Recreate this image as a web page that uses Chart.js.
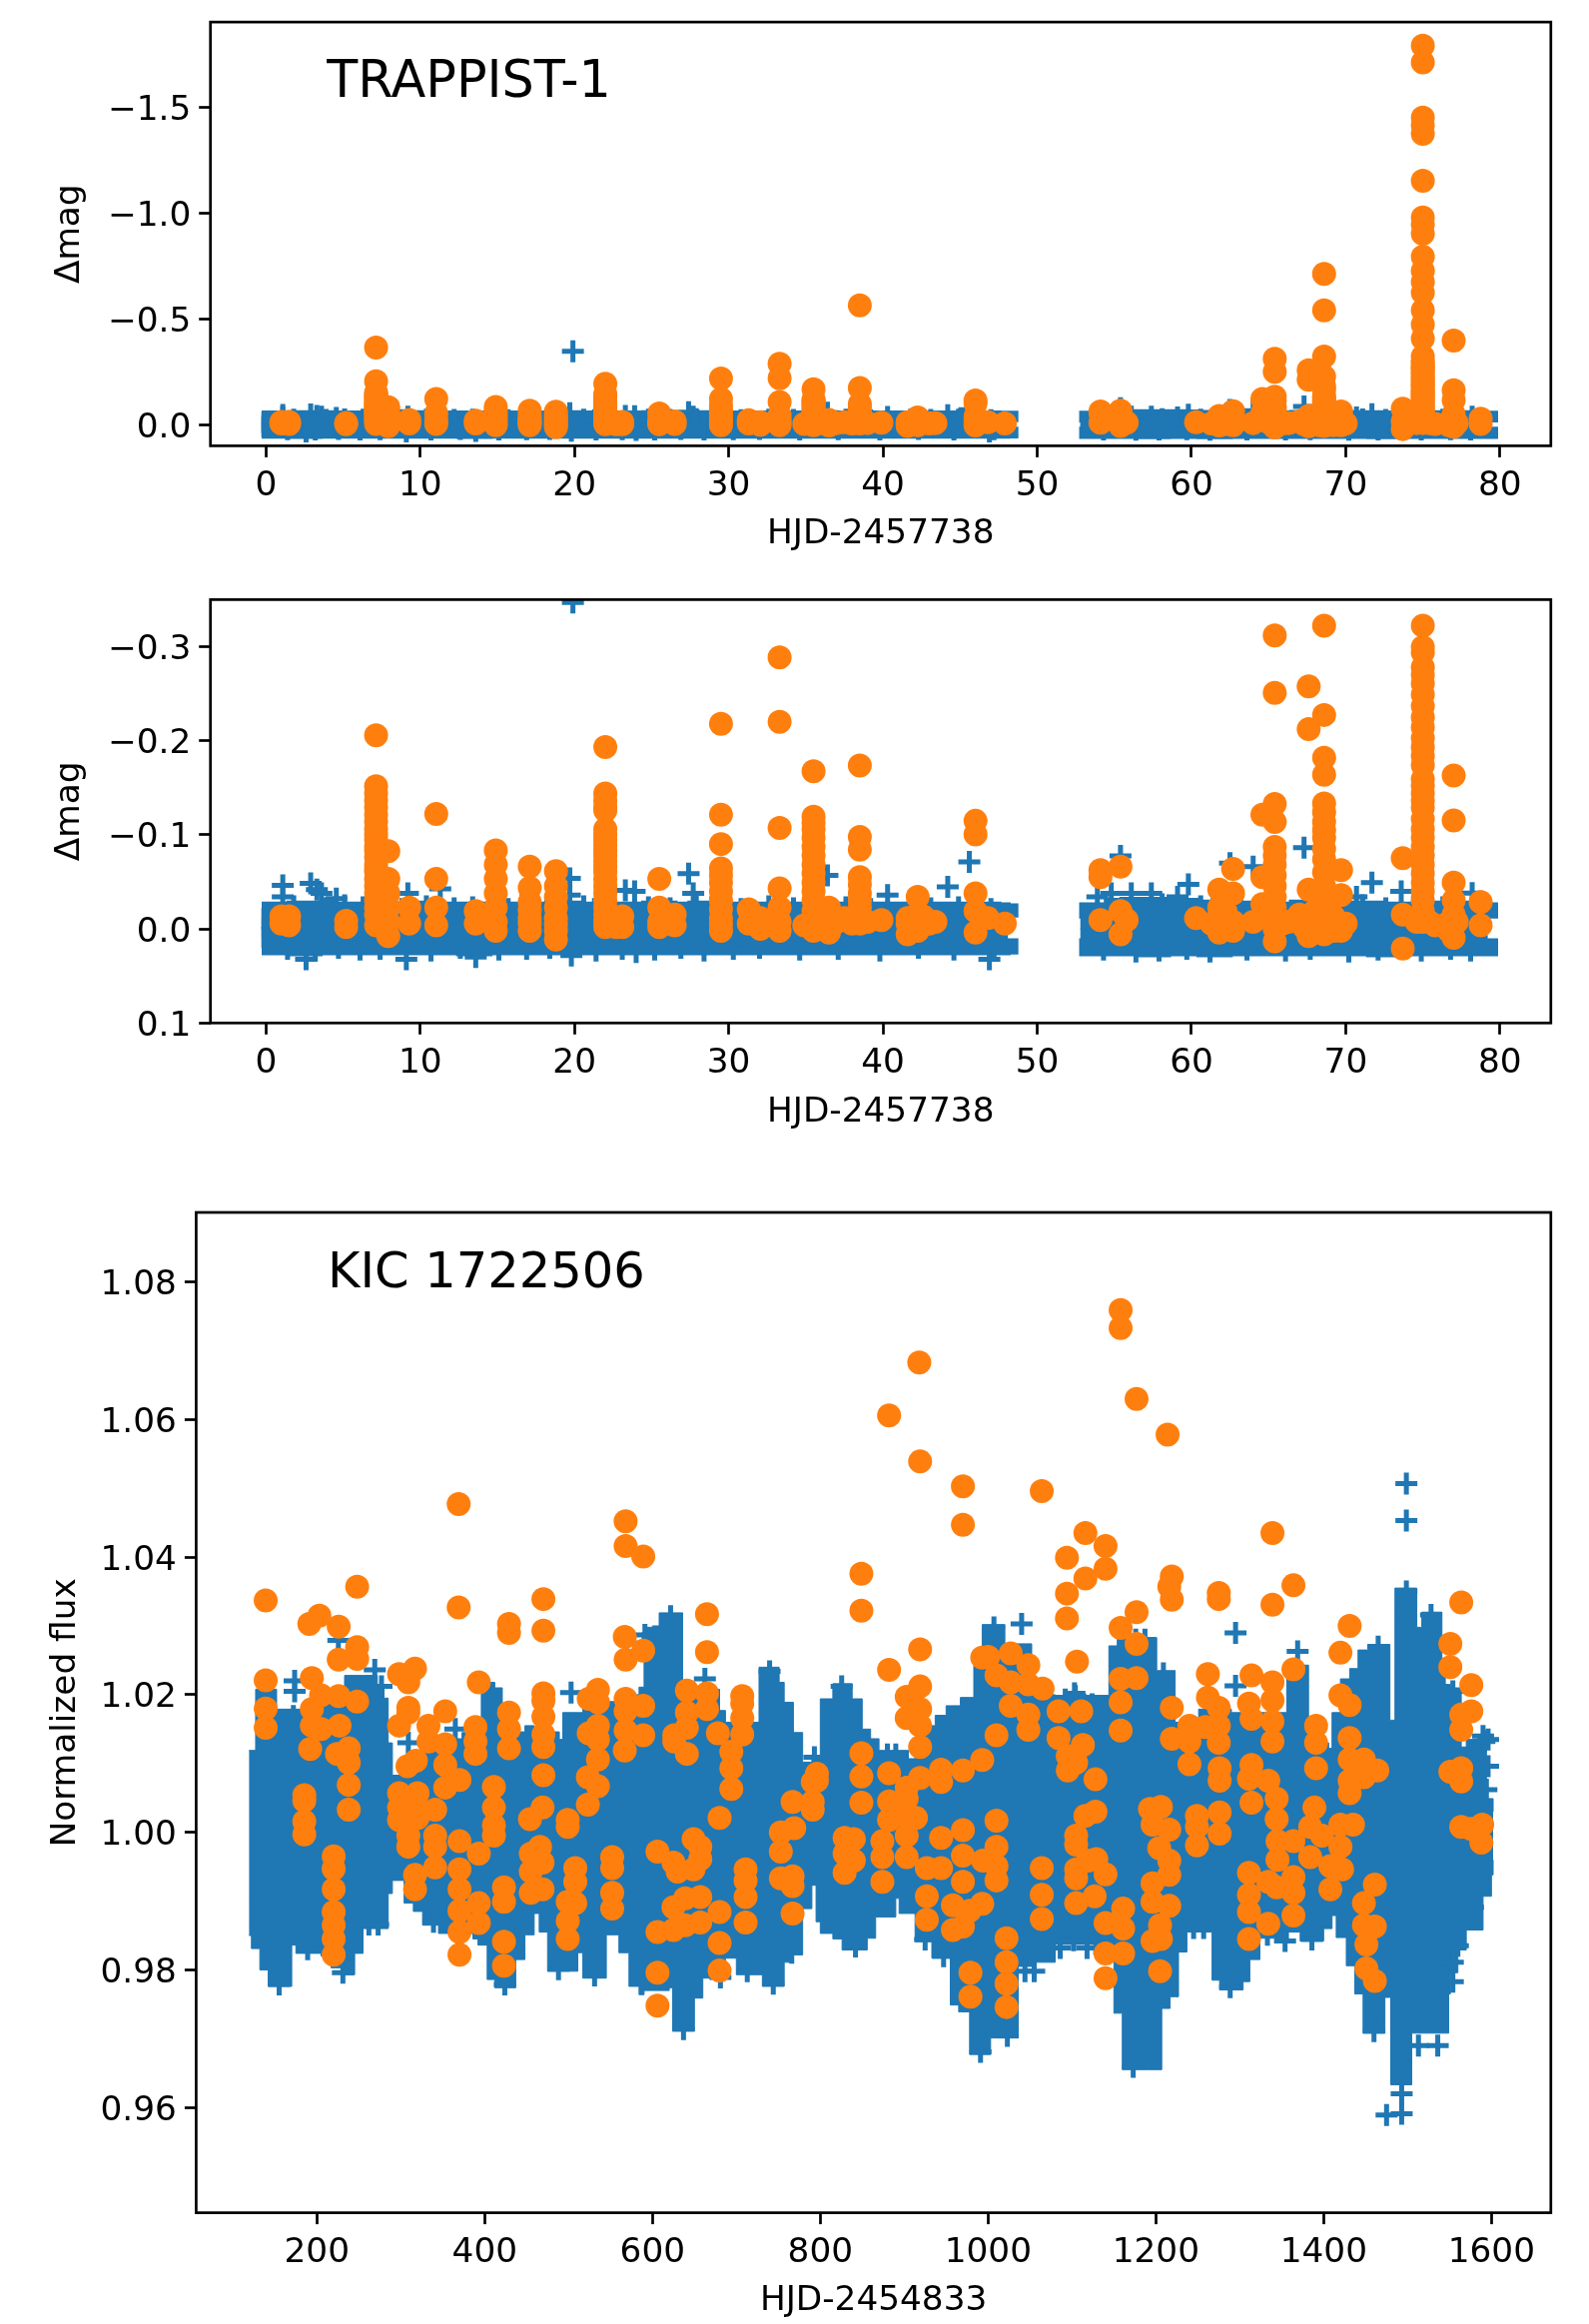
<!DOCTYPE html>
<html>
<head>
    <title>TRAPPIST-1 and KIC 1722506 flares</title>
    <meta charset="UTF-8">
    <style>
        html, body { margin: 0; background: #fff; }
        body { position: relative; width: 1591px; height: 2327px; overflow: hidden; }
        canvas { position: absolute; left: 0; }
    </style>
    <script src="https://cdn.jsdelivr.net/npm/chart.js"></script>
</head>
<body>
    <canvas id="trapTop" width="1591" height="553" style="top:0"></canvas>
    <canvas id="trapZoom" width="1591" height="562" style="top:570px"></canvas>
    <canvas id="kic" width="1591" height="1132" style="top:1190px"></canvas>

    <script>
        // tick labels
        const trapDayTicks = [0, 10, 20, 30, 40, 50, 60, 70, 80];
        const trapMagTicks = [-1.5, -1.0, -0.5, 0.0];
        const trapZoomMagTicks = [-0.3, -0.2, -0.1, 0.0, 0.1];
        const kicDayTicks = [200, 400, 600, 800, 1000, 1200, 1400, 1600];
        const kicFluxTicks = [0.96, 0.98, 1.00, 1.02, 1.04, 1.06, 1.08];

        // TRAPPIST-1: edges of the dense light curve, before and after the gap in the data
        const trapEarlyDays = [-0.3, 0.4, 2, 3, 4, 5, 6, 7, 8, 9, 10, 11, 12, 13, 14, 15, 16, 17, 18, 19, 20, 21, 22, 23, 24,
            25, 26, 27, 28, 29, 30, 31, 32, 33, 34, 35, 36, 37, 38, 39, 40, 41, 42, 43, 44, 45, 46, 47, 47.6, 48.1];
        const trapEarlyHigh = [-0.011, -0.018, -0.019, -0.019, -0.018, -0.017, -0.018, -0.017, -0.018, -0.018, -0.019, -0.018, -0.017, -0.018, -0.018, -0.017, -0.018, -0.017, -0.018, -0.019, -0.018, -0.017, -0.018, -0.017, -0.018,
            -0.019, -0.017, -0.018, -0.019, -0.018, -0.017, -0.018, -0.018, -0.017, -0.018, -0.017, -0.018, -0.017, -0.018, -0.018, -0.017, -0.018, -0.017, -0.018, -0.018, -0.017, -0.018, -0.017, -0.016, -0.012];
        const trapEarlyLow = [0.009, 0.017, 0.018, 0.017, 0.016, 0.017, 0.016, 0.017, 0.017, 0.016, 0.017, 0.016, 0.017, 0.018, 0.016, 0.017, 0.016, 0.017, 0.016, 0.017, 0.017, 0.016, 0.017, 0.016, 0.017,
            0.016, 0.017, 0.016, 0.017, 0.016, 0.017, 0.017, 0.016, 0.017, 0.016, 0.017, 0.016, 0.017, 0.017, 0.016, 0.017, 0.016, 0.017, 0.017, 0.016, 0.017, 0.016, 0.017, 0.016, 0.010];
        const trapLateDays = [52.8, 53.4, 55, 56, 57, 58, 59, 60, 61, 62, 63, 64, 65, 66, 67, 68, 69, 70, 71, 72, 73, 74, 75, 76, 77, 78, 78.6, 79.2];
        const trapLateHigh = [-0.011, -0.017, -0.022, -0.023, -0.023, -0.023, -0.022, -0.020, -0.020, -0.018, -0.019, -0.018, -0.018, -0.017, -0.020, -0.019, -0.018, -0.018, -0.019, -0.018, -0.017, -0.018, -0.019, -0.018, -0.018, -0.019, -0.017, -0.011];
        const trapLateLow = [0.010, 0.018, 0.018, 0.018, 0.019, 0.018, 0.018, 0.018, 0.019, 0.018, 0.017, 0.018, 0.018, 0.017, 0.018, 0.017, 0.018, 0.018, 0.018, 0.019, 0.018, 0.017, 0.018, 0.018, 0.017, 0.018, 0.018, 0.010];

        // TRAPPIST-1: single points standing clear of the band
        const trapPlusDays = [1.09, 1.09, 2.9, 3.3, 3.6, 4.56, 9.2, 11.3, 19.7, 19.7, 19.9, 23.3, 23.9, 27.4, 27.7, 2.6, 9.1, 13.6, 19.8, 24.0,
            36.4, 40.3, 44.2, 45.6, 46.9, 55.4, 54.8, 53.9, 56.1, 57.4, 59.1, 59.8, 62.5, 64.0, 67.3, 71.7, 70.7, 73.6, 78.2,
            1.8, 3.9, 5.1, 6.3, 8.8, 10.4, 12.2, 13.4, 15.7, 16.6, 18.2, 20.6, 21.3, 24.8, 26.2, 27.9, 28.9, 30.8, 32.6, 34.2, 37.6, 39.2, 41.8, 43.1, 44.9, 47.0,
            58.1, 60.6, 61.4, 63.2, 65.9, 68.1, 69.4, 71.1, 72.6, 74.4, 76.3, 77.5,
            1.4, 3.2, 4.7, 6.1, 7.4, 10.7, 12.6, 15.1, 16.9, 18.4, 21.4, 23.1, 25.2, 26.9, 28.4, 30.3, 32.0, 34.6, 37.1, 39.8, 42.3, 44.6, 47.2,
            54.3, 56.4, 57.9, 59.7, 61.2, 63.6, 66.1, 67.7, 70.2, 72.1, 74.9, 76.8, 78.1];
        const trapPlusMag = [-0.0462, -0.0341, -0.0485, -0.0417, -0.0379, -0.0322, -0.0379, -0.0425, -0.0538, -0.0360, -0.347, -0.0409, -0.0398, -0.0588, -0.0379, 0.0322, 0.0322, 0.0300, 0.0284, 0.0246,
            -0.0569, -0.0360, -0.0447, -0.0713, 0.0322, -0.0777, -0.0379, -0.0341, -0.0379, -0.0379, -0.0340, -0.0474, -0.0700, -0.0663, -0.0864, -0.0493, -0.0340, -0.0400, -0.0380,
            -0.024, -0.022, -0.025, -0.023, -0.021, -0.024, -0.022, -0.023, -0.021, -0.025, -0.022, -0.024, -0.021, -0.023, -0.022, -0.026, -0.023, -0.021, -0.024, -0.022, -0.023, -0.021, -0.024, -0.022, -0.023, -0.021,
            -0.026, -0.024, -0.023, -0.025, -0.022, -0.024, -0.023, -0.025, -0.022, -0.024, -0.023, -0.022,
            0.021, 0.023, 0.020, 0.022, 0.021, 0.023, 0.020, 0.022, 0.021, 0.020, 0.023, 0.021, 0.022, 0.020, 0.023, 0.021, 0.020, 0.022, 0.021, 0.023, 0.020, 0.022, 0.021,
            0.022, 0.024, 0.023, 0.021, 0.024, 0.022, 0.023, 0.021, 0.024, 0.022, 0.023, 0.021, 0.023];

        // TRAPPIST-1: flare points
        const trapFlareDays = [1.0, 1.0, 1.5, 1.5,
            5.2, 5.2,
            7.14, 7.14, 7.14, 7.14, 7.14, 7.14, 7.14, 7.14, 7.14, 7.14, 7.14, 7.14, 7.14,
            7.14, 7.14, 7.14, 7.14, 7.14, 7.14, 7.14, 7.14, 7.14, 7.14, 7.14,
            7.93, 7.93, 7.93, 7.93, 7.93, 7.93,
            9.29, 9.29,
            11.04, 11.04, 11.04, 11.04,
            13.6, 13.6,
            14.9, 14.9, 14.9, 14.9, 14.9, 14.9, 14.9,
            17.1, 17.1, 17.1, 17.1, 17.1, 17.1, 17.1,
            18.8, 18.8, 18.8, 18.8, 18.8, 18.8, 18.8, 18.8,
            22.0, 22.0, 22.0, 22.0, 22.0, 22.0, 22.0, 22.0, 22.0, 22.0, 22.0, 22.0, 22.0,
            22.0, 22.0, 22.0, 22.0, 22.0, 22.0, 22.0, 22.0, 22.0,
            23.1, 23.1, 22.7,
            25.5, 25.5, 25.5, 25.5,
            26.5, 26.5,
            29.5, 29.5, 29.5, 29.5, 29.5, 29.5, 29.5, 29.5,
            29.5, 29.5, 29.5, 29.5,
            31.3, 31.3,
            32.05, 32.05,
            33.3, 33.3, 33.3, 33.3, 33.3, 33.3, 33.3,
            34.9,
            35.5, 35.5, 35.5, 35.5, 35.5, 35.5, 35.5, 35.5,
            35.5, 35.5, 35.5, 35.5, 35.5, 35.5, 35.5,
            36.0,
            36.5, 36.5, 36.5,
            37.0, 37.5, 38.0,
            38.5, 38.5, 38.5, 38.5, 38.5, 38.5, 38.5, 38.5,
            38.5, 38.5, 38.5,
            39.0, 39.9,
            41.6, 41.6, 41.6,
            42.25, 42.25, 42.25, 42.6, 43.0,
            43.4,
            46.0, 46.0, 46.0, 46.0, 46.0,
            46.8,
            47.9,
            54.1, 54.1, 54.1,
            55.4, 55.4, 55.4,
            55.8,
            60.3,
            61.3, 61.8, 61.8, 61.8,
            62.2, 62.2, 62.7, 62.7, 62.7, 62.7,
            64.0,
            64.6, 64.6, 64.6,
            65.0, 65.4, 65.4, 65.4, 65.4, 65.4, 65.4, 65.4, 65.4, 65.4,
            65.4, 65.4, 65.4, 65.4, 65.4, 65.9, 66.3,
            67.0, 67.3, 67.6, 67.6, 67.6, 67.6, 67.6, 68.0, 68.3,
            68.6, 68.6, 68.6, 68.6, 68.6, 68.6, 68.6, 68.6, 68.6, 68.6, 68.6, 68.6, 68.6,
            68.6, 68.6, 68.6, 68.6, 68.6, 68.6,
            69.2, 69.2, 69.7, 69.7, 69.7, 70.0,
            73.7, 73.7, 73.7, 74.6,
            75.0, 75.0, 75.0, 75.0, 75.0, 75.0, 75.0, 75.0, 75.0, 75.0, 75.0, 75.0, 75.0, 75.0, 75.0, 75.0,
            75.0, 75.0, 75.0, 75.0, 75.0, 75.0, 75.0, 75.0, 75.0, 75.0, 75.0, 75.0, 75.0, 75.0, 75.0, 75.0, 75.0, 75.0,
            75.0, 75.0, 75.0, 75.0, 75.0, 75.0, 75.0, 75.0, 75.0, 75.0, 75.0, 75.0, 75.0,
            75.4, 75.8, 76.6, 76.7,
            77.0, 77.0, 77.0, 77.0, 77.0, 77.0, 77.0, 77.2,
            78.75, 78.75];
        const trapFlareMag = [-0.0133, -0.0057, -0.0133, -0.0038,
            -0.0087, -0.0019,
            -0.365, -0.2058, -0.1516, -0.1365, -0.1213, -0.1061, -0.0948, -0.0834, -0.0682, -0.0607, -0.0455, -0.0303, -0.0038,
            -0.1440, -0.1290, -0.1140, -0.1000, -0.0880, -0.0760, -0.0640, -0.0530, -0.0380, -0.0230, -0.0150,
            -0.0826, -0.0531, -0.0379, -0.0227, -0.0076, 0.0076,
            -0.0227, -0.0057,
            -0.1221, -0.0531, -0.0227, -0.0038,
            -0.0190, -0.0057,
            -0.0834, -0.0682, -0.0531, -0.0379, -0.0227, -0.0076, 0.0019,
            -0.0663, -0.0436, -0.0284, -0.0114, 0.0019, -0.0200, -0.0060,
            -0.0614, -0.0455, -0.0227, -0.0114, 0.0019, 0.0114, -0.0340, -0.0050,
            -0.1933, -0.1440, -0.1365, -0.1259, -0.1061, -0.0948, -0.0834, -0.0720, -0.0607, -0.0455, -0.0303, -0.0152, -0.0019,
            -0.1300, -0.1000, -0.0890, -0.0780, -0.0660, -0.0530, -0.0380, -0.0230, -0.0080,
            -0.0133, -0.0019, -0.0019,
            -0.0531, -0.0227, -0.0076, -0.0019,
            -0.0152, -0.0038,
            -0.2180, -0.1213, -0.0902, -0.0644, -0.0493, -0.0303, -0.0114, 0.0019,
            -0.0570, -0.0400, -0.0210, -0.0050,
            -0.0208, -0.0057,
            -0.0114, 0.0000,
            -0.2886, -0.2200, -0.1073, -0.0432, -0.0227, -0.0076, 0.0019,
            -0.0038,
            -0.1676, -0.1194, -0.1061, -0.0872, -0.0682, -0.0493, -0.0303, -0.0076,
            -0.1130, -0.0970, -0.0780, -0.0590, -0.0400, -0.0190, 0.0019,
            -0.0076,
            -0.0227, -0.0076, 0.0038,
            -0.0076, -0.0114, -0.0057,
            -0.565, -0.1736, -0.0978, -0.0842, -0.0550, -0.0379, -0.0227, -0.0057,
            -0.0470, -0.0300, -0.0130,
            -0.0076, -0.0095,
            -0.0114, 0.0057, -0.0057,
            -0.0341, -0.0152, 0.0019, -0.0133, -0.0057,
            -0.0076,
            -0.1149, -0.1005, -0.0379, -0.0190, 0.0038,
            -0.0114,
            -0.0057,
            -0.0625, -0.0550, -0.0095,
            -0.0663, -0.0190, 0.0057,
            -0.0095,
            -0.0114,
            -0.0057, -0.0417, -0.0227, 0.0038,
            -0.0190, -0.0038, -0.0637, -0.0379, -0.0076, 0.0019,
            -0.0076,
            -0.1213, -0.0550, -0.0265,
            -0.0114, -0.3120, -0.2509, -0.1327, -0.1137, -0.0872, -0.0682, -0.0455, -0.0227, 0.0133,
            -0.0780, -0.0570, -0.0340, -0.0120, 0.0000, -0.0057, -0.0076,
            -0.0152, -0.0019, -0.2578, -0.2123, -0.0417, -0.0076, 0.0076, -0.0190, 0.0019,
            -0.714, -0.541, -0.3222, -0.2274, -0.1820, -0.1638, -0.1334, -0.1137, -0.0967, -0.0739, -0.0455, -0.0227, 0.0057,
            -0.1240, -0.1050, -0.0850, -0.0600, -0.0340, -0.0120,
            -0.0133, 0.0019, -0.0625, -0.0360, 0.0019, -0.0057,
            -0.0751, -0.0152, 0.0208, -0.0076,
            -1.793, -1.714, -1.4527, -1.4150, -1.3766, -1.154, -0.980, -0.947, -0.904, -0.795, -0.728, -0.676, -0.625, -0.541, -0.474, -0.407,
            -0.3222, -0.2995, -0.2938, -0.2779, -0.2608, -0.2369, -0.2142, -0.2028, -0.1838, -0.1592, -0.1440, -0.1289, -0.1061, -0.0872, -0.0682, -0.0493, -0.0303, -0.0076,
            -0.2700, -0.2490, -0.2250, -0.1930, -0.1740, -0.1520, -0.1360, -0.1170, -0.0970, -0.0780, -0.0590, -0.0400, -0.0190,
            -0.0076, -0.0038, -0.0057, 0.0019,
            -0.398, -0.1630, -0.1152, -0.0493, -0.0303, -0.0152, 0.0095, -0.0076,
            -0.0284, -0.0038];

        // KIC 1722506: edges of the dense light curve, each value holds until the next day
        const kicBandDays = [119, 122, 127, 132, 142, 152, 170, 175, 190, 205, 215, 217, 233, 245, 255, 272, 280, 285, 290, 304,
            315, 326, 345, 373, 386, 392, 396, 403, 412, 421, 425, 437, 448, 459, 465, 475, 489, 493, 511, 517,
            545, 560, 572, 584, 590, 600, 608, 620, 624, 636, 650, 660, 680, 687, 700, 727, 731, 751, 757, 768,
            779, 790, 795, 800, 815, 826, 838, 850, 856, 860, 866, 870, 890, 894, 905, 913, 925, 933, 937, 950,
            955, 965, 967, 978, 983, 993, 1003, 1020, 1036, 1052, 1080, 1126, 1144, 1150, 1154, 1160, 1191, 1201, 1207, 1217,
            1223, 1227, 1237, 1251, 1267, 1276, 1290, 1304, 1312, 1324, 1342, 1356, 1358, 1372, 1382, 1400, 1406, 1410, 1415, 1420,
            1427, 1431, 1437, 1441, 1447, 1453, 1473, 1479, 1480, 1485, 1505, 1511, 1517, 1541, 1545, 1549, 1551, 1560, 1564, 1570,
            1590, 1594, 1600, 1602];
        const kicBandHigh = [1.0119, 1.0119, 1.0208, 1.0208, 1.0208, 1.0179, 1.0179, 1.0179, 1.0185, 1.0185, 1.0190, 1.0190, 1.0228, 1.0228, 1.0228, 1.0215, 1.0195, 1.0130, 1.0083, 1.0083,
            1.0105, 1.0136, 1.0136, 1.0145, 1.0155, 1.0155, 1.0218, 1.0218, 1.0210, 1.0170, 1.0146, 1.0146, 1.0155, 1.0146, 1.0146, 1.0146, 1.0135, 1.0174, 1.0174, 1.0180,
            1.0190, 1.0195, 1.0200, 1.0211, 1.0298, 1.0300, 1.0319, 1.0319, 1.0319, 1.0210, 1.0205, 1.0208, 1.0177, 1.0160, 1.0160, 1.0240, 1.0240, 1.0218, 1.0189, 1.0145,
            1.0102, 1.0112, 1.0112, 1.0194, 1.0216, 1.0216, 1.0194, 1.0150, 1.0150, 1.0136, 1.0136, 1.0119, 1.0119, 1.0119, 1.0107, 1.0130, 1.0150, 1.0155, 1.0170, 1.0184,
            1.0184, 1.0184, 1.0196, 1.0196, 1.0242, 1.0302, 1.0302, 1.0274, 1.0274, 1.0200, 1.0199, 1.0199, 1.0271, 1.0271, 1.0283, 1.0283, 1.0283, 1.0235, 1.0235, 1.0235,
            1.0160, 1.0160, 1.0160, 1.0179, 1.0179, 1.0179, 1.0174, 1.0174, 1.0174, 1.0174, 1.0174, 1.0243, 1.0243, 1.0243, 1.0160, 1.0130, 1.0122, 1.0174, 1.0174, 1.0223,
            1.0223, 1.0238, 1.0238, 1.0265, 1.0265, 1.0273, 1.0273, 1.0163, 1.0163, 1.0355, 1.0355, 1.0298, 1.0320, 1.0245, 1.0215, 1.0215, 1.0210, 1.0210, 1.0124, 1.0135,
            1.0130, 1.0049, 1.0049, 1.0030];
        const kicBandLow = [0.9850, 0.9831, 0.9831, 0.9800, 0.9776, 0.9776, 0.9836, 0.9824, 0.9824, 0.9820, 0.9817, 0.9803, 0.9793, 0.9824, 0.9860, 0.9860, 0.9860, 0.9911, 0.9930, 0.9897,
            0.9885, 0.9865, 0.9853, 0.9853, 0.9845, 0.9836, 0.9836, 0.9786, 0.9774, 0.9774, 0.9774, 0.9815, 0.9851, 0.9882, 0.9855, 0.9798, 0.9798, 0.9798, 0.9825, 0.9788,
            0.9851, 0.9825, 0.9776, 0.9764, 0.9770, 0.9770, 0.9770, 0.9774, 0.9711, 0.9711, 0.9759, 0.9788, 0.9788, 0.9817, 0.9793, 0.9793, 0.9776, 0.9776, 0.9811, 0.9822,
            0.9889, 0.9923, 0.9870, 0.9853, 0.9845, 0.9829, 0.9829, 0.9829, 0.9846, 0.9846, 0.9877, 0.9877, 0.9904, 0.9882, 0.9882, 0.9841, 0.9841, 0.9817, 0.9817, 0.9817,
            0.9749, 0.9739, 0.9739, 0.9677, 0.9677, 0.9677, 0.9701, 0.9701, 0.9805, 0.9811, 0.9837, 0.9822, 0.9822, 0.9737, 0.9737, 0.9655, 0.9655, 0.9655, 0.9744, 0.9761,
            0.9761, 0.9826, 0.9855, 0.9855, 0.9785, 0.9771, 0.9771, 0.9783, 0.9815, 0.9846, 0.9840, 0.9840, 0.9855, 0.9842, 0.9842, 0.9860, 0.9860, 0.9879, 0.9847, 0.9847,
            0.9806, 0.9806, 0.9765, 0.9765, 0.9708, 0.9708, 0.9760, 0.9760, 0.9633, 0.9633, 0.9708, 0.9708, 0.9708, 0.9708, 0.9708, 0.9765, 0.9796, 0.9829, 0.9829, 0.9858,
            0.9907, 0.9907, 0.9938, 0.9960];

        // KIC 1722506: single points standing clear of the band
        const kicPlusDays = [173.5, 173.5, 225.6, 225.6, 269, 277, 309, 365, 503, 591, 662.5, 793,
            1040, 1498.6, 1498.6, 1295, 1369, 1295, 1103, 1591.6, 1528, 1554, 1578, 1288.6,
            1493, 1493, 1475, 1513, 1536,
            155, 637, 991, 1173, 1460, 1498.6, 1007, 621.6, 739.6, 1465, 1209,
            189, 231, 262, 273, 339, 424, 488, 531, 172, 590, 825.5, 880, 890,
            681, 713, 744, 766, 842, 925, 947, 1023, 1044, 1055, 1086, 1102, 1118,
            1245, 1257, 1333, 1354, 1386, 1176, 1187, 1092, 1104, 1124,
            1590, 1596, 1596, 1594, 1560, 1554, 1554];
        const kicPlusFlux = [1.0220, 1.0205, 1.0279, 1.0184, 1.0236, 1.0212, 1.0130, 1.0150, 1.0203, 1.0287, 1.0223, 1.0109,
            1.0303, 1.0507, 1.0453, 1.0290, 1.0263, 1.0213, 1.0202, 1.0132, 1.0316, 1.0205, 0.9891, 0.9775,
            0.9620, 0.9591, 0.9589, 0.9690, 0.9690,
            0.9779, 0.9714, 0.9681, 0.9659, 0.9711, 1.0350, 1.0298, 1.0314, 1.0234, 1.0270, 1.0231,
            0.9830, 0.9796, 0.9866, 0.9866, 0.9870, 0.9779, 0.9801, 0.9792, 1.0169, 1.0275, 1.0212, 1.0113, 1.0113,
            0.9789, 0.9798, 0.9780, 0.9825, 0.9834, 0.9844, 0.9820, 0.9704, 0.9798, 0.9798, 0.9832, 0.9843, 0.9832,
            0.9861, 0.9861, 0.9851, 0.9842, 0.9844, 1.0280, 1.0280, 1.0193, 1.0198, 1.0186,
            1.0140, 1.0135, 1.0096, 1.0062, 0.9835, 0.9783, 0.9811];

        // KIC 1722506: flare points
        const kicFlareDays = [139, 139, 139, 139,
            191, 203, 226, 248, 248, 248, 226, 194, 205, 226, 248, 194, 194, 205, 192, 227, 224, 238, 238, 238, 238,
            185, 185, 185, 185,
            220, 220, 220, 220, 220, 220, 220,
            298, 317, 309, 309, 298, 309, 318, 308, 333, 333, 353, 353, 353, 353, 370, 389, 389, 389, 393,
            298, 298, 298, 320, 320, 320, 309, 309, 341, 341, 341, 370, 393, 317, 317, 341, 370, 370, 370, 370, 370, 393, 393,
            429, 429, 429, 411, 411, 411, 411, 423, 423, 423, 423,
            369, 369, 429, 429, 470, 470, 470, 470, 470, 470, 470, 470, 469, 454, 499, 499,
            466, 455, 469, 455, 455, 469, 508, 508, 499, 508, 499, 499,
            568, 568, 589, 567, 568, 589, 524, 535, 535, 524, 535, 535, 535, 535, 523, 523, 568, 568, 568, 567, 589, 589,
            552, 552, 552, 552, 606, 625, 630, 649, 657, 657, 649,
            606, 625, 625, 639, 639, 657, 657, 680, 680, 680, 606, 606,
            665, 665, 641, 665, 641, 665, 641, 626, 626, 641, 678, 680, 707, 707, 707, 707, 694, 694, 694,
            711, 711, 711, 711,
            753, 769, 753, 753, 767, 767, 767, 767, 796, 791, 796, 791, 791,
            829, 829, 829,
            970, 970, 1064,
            849, 849, 919, 882, 919, 903, 919, 903, 919, 919, 849, 849, 849, 882, 919, 944, 944, 970, 993, 903, 903, 882, 882, 903, 914,
            840, 840, 874, 874, 874, 903, 903, 944, 970, 970, 970, 944, 927, 927, 927, 958, 958, 970, 993, 978, 994, 1010, 1010, 1010, 1010, 1010,
            979, 979, 1022, 1022, 1022, 1022,
            993, 1010, 1027, 1027, 1027, 1048, 1048, 1048, 1048, 1065,
            1094, 1116, 1140, 1140, 1116, 1094, 1094, 1158, 1177, 1177, 1106, 1158, 1177, 1158, 1158,
            1084, 1111, 1084, 1113, 1095, 1105, 1095, 1128, 1128, 1116, 1105, 1105, 1119, 1105, 1105, 1140, 1129, 1105, 1127, 1140, 1161, 1161, 1161, 1140, 1140,
            1064, 1064, 1064,
            1219, 1216, 1219, 1275, 1275, 1339, 1364, 1339, 1219, 1219, 1240, 1240, 1240, 1262, 1262, 1275, 1275, 1275, 1259, 1276, 1276,
            1193, 1206, 1196, 1216, 1204, 1216, 1216, 1196, 1196, 1216, 1205, 1196, 1206, 1205,
            1249, 1249, 1249, 1276, 1276,
            1314, 1339, 1339, 1311, 1314, 1339, 1339, 1314, 1311, 1334, 1314, 1344, 1344, 1345, 1345, 1364, 1311, 1334, 1344, 1364, 1364, 1364, 1311, 1311, 1311, 1334,
            1364, 1389, 1384, 1398, 1384, 1391, 1391, 1391, 1420, 1431, 1420, 1431, 1431, 1431, 1448, 1431, 1431, 1448, 1464, 1420, 1435, 1420, 1408, 1422, 1408,
            1461, 1448, 1448, 1461, 1451, 1451, 1461,
            1564, 1551, 1551, 1576, 1576, 1564, 1564, 1551, 1564, 1564, 1564, 1589, 1576, 1588,
            882, 918, 919, 1000, 1158, 1158, 1177, 1214];
        const kicFlareFlux = [1.0337, 1.0221, 1.0180, 1.0152,
            1.0303, 1.0315, 1.0299, 1.0357, 1.0269, 1.0252, 1.0251, 1.0224, 1.0199, 1.0198, 1.0190, 1.0179, 1.0155, 1.0150, 1.0121, 1.0155, 1.0114, 1.0122, 1.0101, 1.0069, 1.0033,
            1.0054, 1.0046, 1.0016, 0.9997,
            0.9965, 0.9947, 0.9917, 0.9884, 0.9865, 0.9845, 0.9822,
            1.0230, 1.0238, 1.0218, 1.0181, 1.0155, 1.0174, 1.0104, 1.0096, 1.0155, 1.0132, 1.0176, 1.0128, 1.0098, 1.0065, 1.0076, 1.0153, 1.0132, 1.0114, 1.0218,
            1.0057, 1.0036, 1.0018, 1.0057, 1.0036, 1.0021, 0.9995, 0.9979, 1.0033, 0.9995, 0.9979, 0.9987, 0.9969, 0.9938, 0.9917, 0.9949, 0.9946, 0.9917, 0.9886, 0.9855, 0.9822, 0.9897, 0.9868,
            1.0174, 1.0150, 1.0122, 1.0066, 1.0036, 1.0010, 0.9995, 0.9920, 0.9899, 0.9841, 0.9806,
            1.0477, 1.0327, 1.0303, 1.0290, 1.0339, 1.0293, 1.0202, 1.0191, 1.0168, 1.0142, 1.0124, 1.0083, 1.0036, 1.0019, 1.0018, 1.0008,
            0.9979, 0.9969, 0.9956, 0.9943, 0.9912, 0.9917, 0.9948, 0.9928, 0.9899, 0.9897, 0.9871, 0.9845,
            1.0452, 1.0416, 1.0401, 1.0284, 1.0251, 1.0264, 1.0194, 1.0207, 1.0189, 1.0144, 1.0155, 1.0135, 1.0106, 1.0067, 1.0080, 1.0040, 1.0194, 1.0176, 1.0148, 1.0119, 1.0184, 1.0141,
            0.9964, 0.9948, 0.9912, 0.9889, 0.9972, 0.9956, 0.9943, 0.9990, 0.9979, 0.9961, 0.9946,
            0.9855, 0.9891, 0.9858, 0.9904, 0.9865, 0.9906, 0.9869, 0.9884, 0.9839, 0.9799, 0.9796, 0.9748,
            1.0317, 1.0262, 1.0206, 1.0202, 1.0174, 1.0179, 1.0152, 1.0141, 1.0132, 1.0114, 1.0144, 1.0021, 1.0198, 1.0187, 1.0166, 1.0142, 1.0117, 1.0093, 1.0063,
            0.9946, 0.9930, 0.9906, 0.9869,
            1.0000, 1.0006, 0.9972, 0.9933, 0.9936, 0.9922, 0.9882, 1.0044, 1.0085, 1.0073, 1.0075, 1.0044, 1.0033,
            0.9992, 0.9969, 0.9941,
            1.0503, 1.0447, 1.0496,
            1.0376, 1.0322, 1.0266, 1.0236, 1.0212, 1.0197, 1.0179, 1.0166, 1.0155, 1.0124, 1.0115, 1.0081, 1.0043, 1.0086, 1.0079, 1.0091, 1.0073, 1.0090, 1.0105, 1.0065, 1.0049, 1.0045, 1.0018, 1.0023, 1.0021,
            0.9990, 0.9959, 0.9987, 0.9964, 0.9928, 0.9995, 0.9964, 0.9992, 1.0003, 0.9966, 0.9928, 0.9948, 0.9948, 0.9907, 0.9873, 0.9894, 0.9858, 0.9863, 0.9896, 0.9886, 0.9959, 0.9979, 0.9951, 0.9930, 1.0017, 1.0141,
            0.9796, 0.9761, 0.9846, 0.9811, 0.9780, 0.9746,
            1.0254, 1.0228, 1.0260, 1.0218, 1.0184, 1.0243, 1.0215, 1.0171, 1.0149, 1.0209,
            1.0399, 1.0435, 1.0416, 1.0383, 1.0369, 1.0347, 1.0311, 1.0297, 1.0320, 1.0274, 1.0248, 1.0223, 1.0224, 1.0189, 1.0148,
            1.0176, 1.0176, 1.0137, 1.0127, 1.0111, 1.0101, 1.0090, 1.0077, 1.0030, 1.0024, 0.9995, 0.9982, 0.9959, 0.9946, 0.9933, 0.9939, 0.9961, 0.9897, 0.9907, 0.9868, 0.9889, 0.9860, 0.9824, 0.9824, 0.9788,
            0.9948, 0.9909, 0.9874,
            1.0372, 1.0357, 1.0338, 1.0348, 1.0339, 1.0435, 1.0359, 1.0331, 1.0181, 1.0136, 1.0155, 1.0132, 1.0099, 1.0230, 1.0196, 1.0181, 1.0155, 1.0130, 1.0153, 1.0093, 1.0075,
            1.0034, 1.0037, 1.0011, 1.0004, 0.9977, 0.9959, 0.9938, 0.9926, 0.9899, 0.9893, 0.9865, 0.9842, 0.9845, 0.9798,
            1.0024, 1.0008, 0.9981, 1.0029, 0.9998,
            1.0228, 1.0218, 1.0192, 1.0187, 1.0165, 1.0161, 1.0132, 1.0098, 1.0078, 1.0075, 1.0043, 1.0049, 1.0019, 0.9987, 0.9960, 0.9987, 0.9941, 0.9928, 0.9920, 0.9935, 0.9912, 0.9879, 0.9909, 0.9884, 0.9845, 0.9867,
            1.0237, 1.0036, 1.0008, 0.9995, 0.9964, 1.0155, 1.0130, 1.0093, 1.0261, 1.0300, 1.0199, 1.0185, 1.0137, 1.0106, 1.0106, 1.0075, 1.0057, 1.0080, 1.0090, 1.0011, 1.0011, 0.9979, 0.9951, 0.9946, 0.9917,
            0.9924, 0.9897, 0.9865, 0.9863, 0.9837, 0.9802, 0.9784,
            1.0334, 1.0274, 1.0240, 1.0214, 1.0176, 1.0171, 1.0149, 1.0088, 1.0093, 1.0074, 1.0008, 1.0011, 1.0005, 0.9985,
            1.0606, 1.0683, 1.0539, 1.0255, 1.0759, 1.0733, 1.0630, 1.0578];

        const BLUE = '#1f77b4';
        const ORANGE = '#ff7f0e';
        const FONT = '"DejaVu Sans", sans-serif';
        const TEXT_SIZE = 34.3;

        function pairs(xs, ys) {
            return xs.map((x, i) => ({ x: x, y: ys[i] }));
        }

        function minusSign(text) {
            return text.replace('-', '\u2212');
        }

        // frame on all four sides and the big label inside the axes
        const framePlugin = {
            id: 'frame',
            afterDatasetsDraw(chart, args, opts) {
                const { ctx, chartArea: a, scales } = chart;
                ctx.save();
                ctx.strokeStyle = '#000';
                ctx.lineWidth = 2.7;
                ctx.strokeRect(a.left, a.top, a.right - a.left, a.bottom - a.top);
                if (opts.text) {
                    ctx.fillStyle = '#000';
                    ctx.font = opts.size + 'px ' + FONT;
                    ctx.textAlign = 'left';
                    ctx.textBaseline = 'alphabetic';
                    ctx.fillText(opts.text, scales.x.getPixelForValue(opts.x), scales.y.getPixelForValue(opts.y));
                }
                ctx.restore();
            },
        };

        function drawPanel(id, cfg) {
            const axisLook = {
                grid: { drawOnChartArea: false, drawTicks: true, tickLength: 11.5, tickWidth: 2.7, tickColor: '#000' },
                border: { display: false },
            };
            return new Chart(document.getElementById(id), {
                type: 'scatter',
                data: { datasets: cfg.datasets },
                plugins: [framePlugin],
                options: {
                    responsive: false,
                    animation: false,
                    layout: { padding: { left: 0, right: 1591 - cfg.right, top: cfg.top, bottom: 0 } },
                    plugins: {
                        legend: { display: false },
                        tooltip: { enabled: false },
                        frame: cfg.label,
                    },
                    scales: {
                        x: {
                            ...axisLook,
                            type: 'linear',
                            min: cfg.xMin,
                            max: cfg.xMax,
                            afterBuildTicks: (s) => { s.ticks = cfg.xTicks.map((v) => ({ value: v })); },
                            afterFit: (s) => { s.height = cfg.height - cfg.bottom; },
                            ticks: {
                                color: '#000',
                                font: { family: FONT, size: TEXT_SIZE, lineHeight: 1 },
                                padding: 12,
                                maxRotation: 0,
                                autoSkip: false,
                                callback: (v) => String(v),
                            },
                            title: {
                                display: true,
                                text: cfg.xTitle,
                                color: '#000',
                                font: { family: FONT, size: TEXT_SIZE, lineHeight: 1 },
                                padding: { top: 0, bottom: 1 },
                            },
                        },
                        y: {
                            ...axisLook,
                            type: 'linear',
                            reverse: cfg.reverse,
                            min: cfg.yMin,
                            max: cfg.yMax,
                            afterBuildTicks: (s) => { s.ticks = cfg.yTicks.map((v) => ({ value: v })); },
                            afterFit: (s) => { s.width = cfg.left; },
                            ticks: {
                                color: '#000',
                                // blank first line and a small line height sit the digits level with the tick
                                font: { family: FONT, size: TEXT_SIZE, lineHeight: '7px' },
                                padding: 8,
                                autoSkip: false,
                                callback: (v) => ['', minusSign(v.toFixed(cfg.digits))],
                            },
                            title: {
                                display: true,
                                text: cfg.yTitle,
                                color: '#000',
                                font: { family: FONT, size: TEXT_SIZE, lineHeight: 1 },
                                padding: { top: cfg.yTitlePad, bottom: 0 },
                            },
                        },
                    },
                },
            });
        }

        function crossSet(points) {
            return { data: points, showLine: false, pointStyle: 'cross', pointRadius: 11, pointBorderWidth: 5,
                pointBorderColor: BLUE, pointBackgroundColor: BLUE, order: 1, clip: 0 };
        }

        function flareSet(points) {
            return { data: points, showLine: false, pointStyle: 'circle', pointRadius: 12, pointBorderWidth: 0,
                pointBackgroundColor: ORANGE, pointBorderColor: ORANGE, order: 0, clip: 0 };
        }

        // one band is two stepped edge lines with the fill between them
        function bandEdges(days, high, low, lineWidth) {
            const edge = (values, fill) => ({
                data: pairs(days, values),
                showLine: true,
                stepped: true,
                borderColor: BLUE,
                borderWidth: lineWidth,
                backgroundColor: BLUE,
                fill: fill,
                pointRadius: 0,
                order: 2,
                clip: 0,
            });
            return [edge(high, '+1'), edge(low, false)];
        }

        function trapDatasets() {
            return [
                ...bandEdges(trapEarlyDays, trapEarlyHigh, trapEarlyLow, 21),
                ...bandEdges(trapLateDays, trapLateHigh, trapLateLow, 21),
                crossSet(pairs(trapPlusDays, trapPlusMag)),
                flareSet(pairs(trapFlareDays, trapFlareMag)),
            ];
        }

        function kicDatasets() {
            return [
                ...bandEdges(kicBandDays, kicBandHigh, kicBandLow, 1),
                crossSet(pairs(kicPlusDays, kicPlusFlux)),
                flareSet(pairs(kicFlareDays, kicFlareFlux)),
            ];
        }

        const trapShared = {
            left: 210.7, right: 1552.8,
            xMin: -3.6, xMax: 83.3, xTicks: trapDayTicks, xTitle: 'HJD-2457738',
            yTitle: '\u0394mag', yTitlePad: 53, reverse: true, digits: 1,
        };

        drawPanel('trapTop', {
            ...trapShared,
            height: 553, top: 22.1, bottom: 446.4,
            yMin: -1.905, yMax: 0.1, yTicks: trapMagTicks,
            datasets: trapDatasets(),
            label: { text: 'TRAPPIST-1', x: 3.95, y: -1.552, size: 50.8 },
        });

        drawPanel('trapZoom', {
            ...trapShared,
            height: 562, top: 30.4, bottom: 454.3,
            yMin: -0.35, yMax: 0.1, yTicks: trapZoomMagTicks,
            datasets: trapDatasets(),
            label: {},
        });

        drawPanel('kic', {
            left: 196.4, right: 1552.8,
            height: 1132, top: 24, bottom: 1025.6,
            xMin: 56.1, xMax: 1670.8, xTicks: kicDayTicks, xTitle: 'HJD-2454833',
            yMin: 0.9447, yMax: 1.0901, yTicks: kicFluxTicks,
            yTitle: 'Normalized flux', yTitlePad: 49, reverse: false, digits: 2,
            datasets: kicDatasets(),
            label: { text: 'KIC 1722506', x: 212.7, y: 1.0792, size: 49.5 },
        });
    </script>
</body>
</html>
